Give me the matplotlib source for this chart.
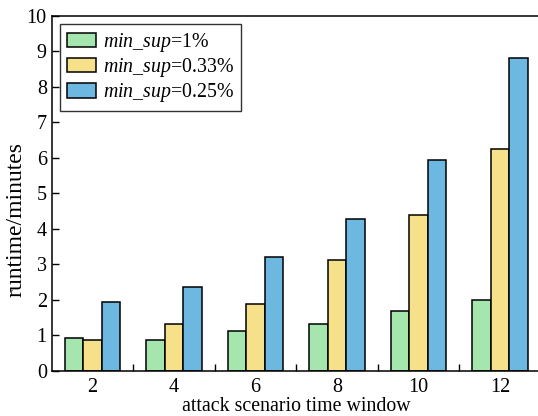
import matplotlib
matplotlib.use("Agg")
import matplotlib.pyplot as plt
import numpy as np

plt.rcParams['font.family'] = ['Liberation Serif', 'DejaVu Serif']
plt.rcParams['mathtext.fontset'] = 'custom'
plt.rcParams['mathtext.rm'] = 'Liberation Serif'
plt.rcParams['mathtext.it'] = 'Liberation Serif:italic'

windows = ['2', '4', '6', '8', '10', '12']
sup_1 = [0.93, 0.87, 1.12, 1.32, 1.68, 2.00]
sup_033 = [0.87, 1.32, 1.88, 3.13, 4.40, 6.25]
sup_025 = [1.93, 2.37, 3.19, 4.27, 5.93, 8.82]
labels = [r'$\mathit{min\_sup}$=1%', r'$\mathit{min\_sup}$=0.33%', r'$\mathit{min\_sup}$=0.25%']
colors = ['#a4e6ad', '#f6e08a', '#6cb8e0']

fig = plt.figure(figsize=(5.38, 4.16), dpi=100)
ax = fig.add_axes([0.0961, 0.109, 0.9095, 0.853])

x = np.arange(len(windows))
w = 0.227
for i, vals in enumerate([sup_1, sup_033, sup_025]):
    ax.bar(x + (i - 1) * w, vals, w, color=colors[i], edgecolor='black',
           linewidth=1.1, label=labels[i])

ax.set_xlim(-0.5, 5.5)
ax.set_ylim(0, 10)
ax.set_yticks(range(0, 11))
ax.set_xticks(x)
ax.set_xticklabels(windows)
ax.set_xticks(np.arange(0.5, 5.5, 1), minor=True)
ax.tick_params(axis='x', which='major', length=0, labelsize=14.5, pad=5)
ax.tick_params(axis='x', which='minor', direction='in', length=5, width=1)
ax.tick_params(axis='y', direction='in', length=5, width=1, labelsize=14.5)
for s in ax.spines.values():
    s.set_linewidth(1.1)

ax.set_xlabel('attack scenario time window', fontsize=14.3, labelpad=0)
ax.set_ylabel('runtime/minutes', fontsize=17, labelpad=4)
ax.yaxis.set_label_coords(-0.052, 0.425)

leg = ax.legend(loc='upper left', fontsize=14.3, frameon=True, fancybox=False,
                edgecolor='black', handlelength=1.46, handleheight=0.75,
                borderaxespad=0.4, borderpad=0.35, labelspacing=0.12,
                handletextpad=0.35)
leg.get_frame().set_linewidth(1.0)

fig.savefig('out.png', dpi=100)
